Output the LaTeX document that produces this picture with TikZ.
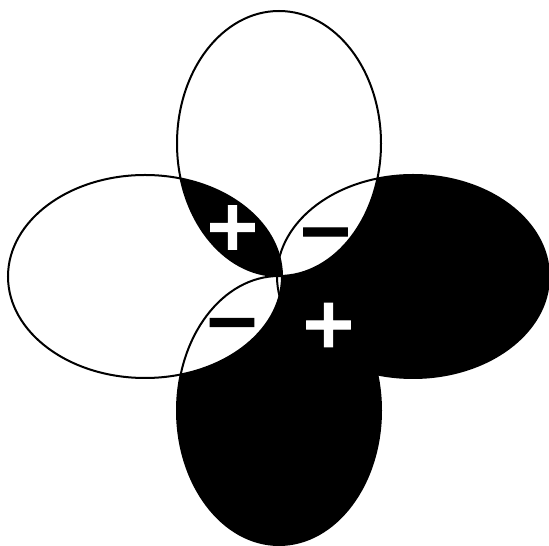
\documentclass[tikz,border=0pt]{standalone}
\usepackage{fontspec}
\newfontfamily\signfont[FakeBold=1.5]{DejaVu Sans Bold}
\usetikzlibrary{positioning}

\begin{document}
\begin{tikzpicture}[
  x=1pt,y=1pt,
  lobe/.style={draw=black,line width=2pt},
  sign/.style={font=\signfont\fontsize{70}{70}\selectfont,inner sep=0pt},
  possign/.style={sign,text=white},
  negsign/.style={sign,text=black}
]
  \def\toplobe{(279,402.5) ellipse [x radius=102pt,y radius=132.5pt]}
  \def\bottomlobe{(279,135.5) ellipse [x radius=102pt,y radius=134.5pt]}
  \def\leftlobe{(145,269.5) ellipse [x radius=137pt,y radius=101.5pt]}
  \def\rightlobe{(413,269.5) ellipse [x radius=136pt,y radius=101.5pt]}
  \useasboundingbox (0,0) rectangle (549,546);
  % dark lobes
  \fill[black] \rightlobe;
  \fill[black] \bottomlobe;
  % overlaps of opposite phase
  \begin{scope}
    \clip \toplobe;
    \fill[white] \rightlobe;
  \end{scope}
  \begin{scope}
    \clip \leftlobe;
    \fill[white] \bottomlobe;
  \end{scope}
  % overlap of the two light lobes
  \begin{scope}
    \clip \toplobe;
    \fill[black] \leftlobe;
  \end{scope}
  \draw[lobe] \toplobe;
  \draw[lobe] \leftlobe;
  \draw[lobe] \rightlobe;
  \draw[lobe] \bottomlobe;
  \node[possign] (plusNW) at (232.5,318.5) {+};
  \node[negsign] (minusNE) at (325.5,305) {−};
  \node[negsign] (minusSW) at (232,214.5) {−};
  \node[possign] (plusSE) at (328.5,221) {+};
\end{tikzpicture}
\end{document}
